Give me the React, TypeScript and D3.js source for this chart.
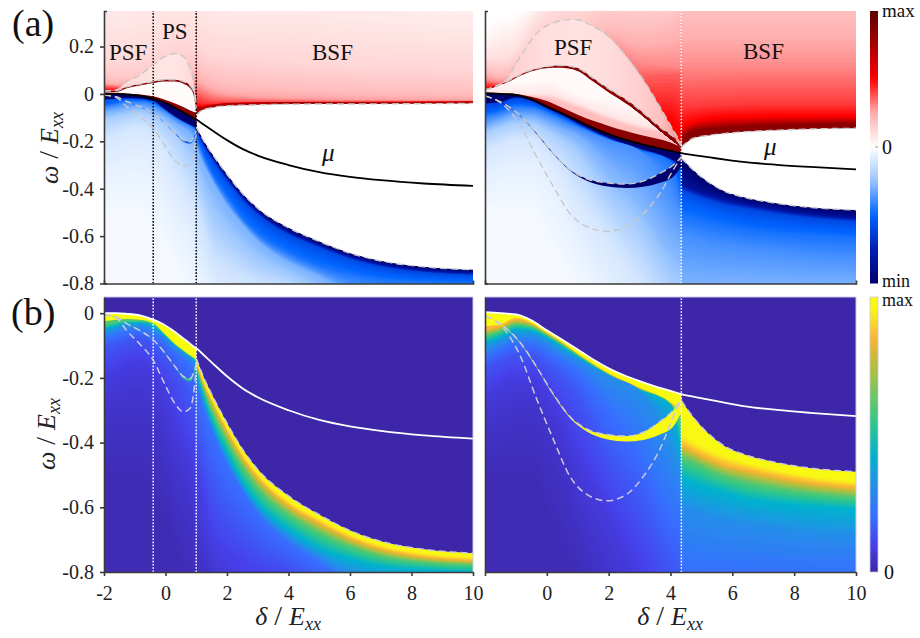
import React, { useEffect, useRef } from 'react';
import * as d3 from 'd3';

// ---------- colour stops ----------
const redStops = ['#ffffff', '#ffafaf', '#ff0000', '#aa0000', '#5a0000'];
const blueStops = ['#ffffff', '#96c3ff', '#0064ff', '#001eb4', '#00006e'];
const barT = [0, 0.25, 0.5, 0.75, 1];
const parulaT = [0, 0.1, 0.2, 0.3, 0.42, 0.55, 0.7, 0.8, 0.85, 0.92, 0.96, 1];
const parulaC = ['#3e26a8', '#4641eb', '#376eff', '#268ceb', '#00b2cd', '#32c887', '#96c34b', '#d7b932', '#fab437', '#fae123', '#f8f814', '#f8fa0f'];
// blue weights are read on the (b) scale, this maps them to the (a) bar
const weightB = [0, 0.1, 0.19, 0.3, 0.42, 0.6, 0.85, 0.95, 1];
const weightA = [0, 0.12, 0.28, 0.38, 0.46, 0.53, 0.6, 0.85, 1];

// ---------- left column curves ----------
const leftGrid = [-2, -1.6, -1.26, -0.83, -0.4, -0.07, 0.31, 0.58, 0.8, 0.9, 1];
const leftMu = [0, 0, -0.002, -0.007, -0.02, -0.034, -0.058, -0.078, -0.094, -0.102, -0.108];
const leftU2 = [0.012, 0.017, 0.052, 0.08, 0.123, 0.155, 0.17, 0.158, 0.109, 0.06, -0.05];
const leftU1 = [0.012, 0.014, 0.03, 0.042, 0.052, 0.06, 0.06, 0.052, 0.035, 0.015, -0.06];
const leftU1b = [0.006, 0.008, 0.024, 0.036, 0.046, 0.053, 0.052, 0.043, 0.024, 0.002, -0.07];
const leftU0 = [0.005, 0.005, 0.002, -0.002, -0.01, -0.022, -0.04, -0.055, -0.07, -0.075, -0.08];
const leftL1 = [-0.005, -0.012, -0.032, -0.054, -0.082, -0.117, -0.165, -0.195, -0.202, -0.188, -0.155];
const leftL1b = [-0.006, -0.013, -0.034, -0.056, -0.084, -0.119, -0.168, -0.202, -0.21, -0.197, -0.165];
const leftL2 = [-0.005, -0.015, -0.054, -0.096, -0.145, -0.21, -0.28, -0.305, -0.294, -0.258, -0.17];
const leftBand = [-0.025, -0.02, -0.018, -0.02, -0.03, -0.06, -0.095, -0.115, -0.13, -0.136, -0.145];

const leftTailX = [1, 1.25, 1.5, 2, 2.5, 3, 4, 5, 6, 7, 8.4, 10];
const leftTailMu = [-0.108, -0.13, -0.152, -0.195, -0.232, -0.26, -0.3, -0.33, -0.35, -0.364, -0.378, -0.388];
const leftEdge = [-0.14, -0.2, -0.25, -0.34, -0.42, -0.483, -0.565, -0.623, -0.672, -0.705, -0.73, -0.742];

const leftUpX = [1, 1.2, 1.5, 2, 3, 4.4, 7, 10];
const leftUpEdge = [-0.09, -0.068, -0.058, -0.05, -0.046, -0.043, -0.042, -0.04];

// ---------- right column curves ----------
const rightGrid = [-2, -1.4, -0.87, -0.33, 0.21, 0.75, 1.29, 1.94, 2.58, 3.12, 3.66, 4.09, 4.35];
const rightL1 = [-0.008, -0.04, -0.09, -0.166, -0.25, -0.32, -0.358, -0.375, -0.38, -0.368, -0.335, -0.3, -0.266];
const rightL1b = [-0.008, -0.042, -0.092, -0.169, -0.254, -0.324, -0.366, -0.39, -0.397, -0.392, -0.375, -0.35, -0.306];
const rightL2 = [-0.008, -0.047, -0.13, -0.265, -0.39, -0.505, -0.56, -0.58, -0.56, -0.505, -0.42, -0.32, -0.266];

const rightMuX = [-2, -1.5, -1, -0.5, 0, 0.5, 1, 1.5, 2, 2.5, 3, 3.5, 4, 4.35];
const rightMu = [0.003, 0, -0.004, -0.022, -0.053, -0.082, -0.112, -0.143, -0.17, -0.192, -0.21, -0.226, -0.24, -0.25];
const rightMidX = [-2, -1.5, -1, -0.5, 0, 0.5, 1, 2, 3, 4, 4.35];
const rightBand = [-0.04, -0.035, -0.015, -0.03, -0.06, -0.09, -0.125, -0.185, -0.23, -0.275, -0.3];
const rightU0 = [0.005, 0.004, 0, -0.012, -0.03, -0.058, -0.088, -0.135, -0.172, -0.205, -0.225];

const rightU1X = [-2, -1.4, -0.65, 0, 0.43, 0.97, 1.5, 2.05, 2.58, 3.12, 3.66, 4.2, 4.35];
const rightU1 = [0.017, 0.046, 0.094, 0.115, 0.12, 0.11, 0.066, 0.017, -0.025, -0.08, -0.14, -0.195, -0.22];
const rightU1b = [0.012, 0.041, 0.088, 0.108, 0.11, 0.098, 0.052, 0.002, -0.042, -0.098, -0.16, -0.215, -0.23];

const rightU2X = [-2, -1.4, -0.86, -0.32, 0.22, 0.86, 1.5, 2.05, 2.58, 3.12, 3.66, 4.09, 4.35];
const rightU2 = [0.017, 0.05, 0.157, 0.257, 0.3, 0.315, 0.285, 0.236, 0.157, 0.06, -0.055, -0.153, -0.21];

const rightTailX = [4.35, 4.74, 5.28, 5.82, 6.36, 7.44, 8.52, 10];
const rightTailMu = [-0.25, -0.258, -0.268, -0.278, -0.287, -0.299, -0.308, -0.318];
const rightEdge = [-0.27, -0.322, -0.377, -0.415, -0.436, -0.462, -0.479, -0.49];
const rightUpEdge = [-0.225, -0.187, -0.174, -0.166, -0.16, -0.153, -0.148, -0.145];

// ---------- contours of the shading, [weight, omega at each x] ----------
const leftLowLevels: [number, number[]][] = [
  [0.6, [-0.035, -0.028, -0.024, -0.025, -0.034, -0.063, -0.098, -0.118, -0.133, -0.139, -0.148]],
  [0.4, [-0.05, -0.04, -0.03, -0.03, -0.04, -0.065, -0.1, -0.12, -0.135, -0.142, -0.15]],
  [0.3, [-0.06, -0.05, -0.04, -0.04, -0.05, -0.072, -0.105, -0.125, -0.14, -0.15, -0.16]],
  [0.2, [-0.08, -0.07, -0.06, -0.055, -0.07, -0.09, -0.125, -0.145, -0.165, -0.18, -0.2]],
  [0.14, [-0.11, -0.1, -0.09, -0.08, -0.1, -0.13, -0.17, -0.22, -0.27, -0.28, -0.3]],
  [0.08, [-0.2, -0.18, -0.16, -0.15, -0.18, -0.23, -0.33, -0.4, -0.45, -0.48, -0.5]],
  [0.05, [-0.32, -0.3, -0.28, -0.28, -0.32, -0.4, -0.5, -0.55, -0.6, -0.65, -0.7]],
  [0.02, [-0.5, -0.5, -0.5, -0.5, -0.55, -0.62, -0.72, -0.8, -0.85, -0.9, -0.9]],
];
const leftTailLevels: [number, number[]][] = [
  [1, leftEdge],
  [0.93, [-0.15, -0.215, -0.265, -0.355, -0.435, -0.498, -0.583, -0.638, -0.687, -0.72, -0.745, -0.757]],
  [0.8, [-0.16, -0.225, -0.275, -0.37, -0.45, -0.513, -0.598, -0.653, -0.7, -0.733, -0.757, -0.768]],
  [0.6, [-0.17, -0.24, -0.3, -0.395, -0.475, -0.54, -0.622, -0.678, -0.72, -0.75, -0.77, -0.778]],
  [0.4, [-0.18, -0.265, -0.335, -0.435, -0.525, -0.59, -0.67, -0.728, -0.762, -0.785, -0.795, -0.802]],
  [0.2, [-0.22, -0.3, -0.36, -0.47, -0.55, -0.62, -0.71, -0.77, -0.84, -0.88, -0.93, -0.97]],
  [0.1, [-0.45, -0.55, -0.65, -0.72, -0.76, -0.79, -0.82, -0.9, -1, -1.05, -1.1, -1.2]],
  [0.03, [-0.8, -0.85, -0.9, -0.95, -1, -1.05, -1.1, -1.2, -1.3, -1.3, -1.3, -1.4]],
];
const leftUpLevels: [number, number[]][] = [
  [0.85, [-0.06, -0.055, -0.048, -0.04, -0.037, -0.035, -0.034, -0.032]],
  [0.5, [-0.05, -0.052, -0.044, -0.037, -0.034, -0.033, -0.032, -0.03]],
  [0.43, [-0.03, -0.04, -0.042, -0.036, -0.033, -0.032, -0.031, -0.029]],
  [0.36, [0, -0.01, -0.025, -0.03, -0.031, -0.031, -0.03, -0.028]],
  [0.27, [0.05, 0.03, 0.01, -0.005, -0.015, -0.02, -0.025, -0.027]],
  [0.2, [0.1, 0.08, 0.06, 0.04, 0.03, 0.02, 0.01, 0]],
  [0.125, [0.2, 0.18, 0.16, 0.15, 0.14, 0.13, 0.11, 0.1]],
  [0.08, [0.35, 0.34, 0.32, 0.3, 0.3, 0.3, 0.27, 0.25]],
  [0.05, [0.5, 0.5, 0.5, 0.45, 0.42, 0.42, 0.4, 0.38]],
];
const leftPsfX = [-2, -1.6, -1.2, -0.8, -0.4, 0, 0.5, 1];
const leftPsfLevels: [number, number[]][] = [
  [0.45, [0.02, 0.018, 0.01, 0, 0, 0, 0, -0.02]],
  [0.25, [0.045, 0.04, 0.04, 0.04, 0.04, 0.04, 0.04, 0.06]],
  [0.17, [0.08, 0.07, 0.07, 0.07, 0.1, 0.1, 0.1, 0.12]],
  [0.12, [0.14, 0.14, 0.14, 0.15, 0.16, 0.2, 0.22, 0.2]],
  [0.08, [0.3, 0.28, 0.28, 0.3, 0.3, 0.35, 0.35, 0.32]],
  [0.06, [0.45, 0.45, 0.45, 0.45, 0.45, 0.45, 0.45, 0.45]],
];
const rightLowLevels: [number, number[]][] = [
  [0.85, [-0.05, -0.04, -0.02, -0.032, -0.062, -0.092, -0.127, -0.187, -0.232, -0.277, -0.31]],
  [0.6, [-0.07, -0.055, -0.035, -0.042, -0.068, -0.097, -0.13, -0.19, -0.235, -0.28, -0.33]],
  [0.4, [-0.09, -0.075, -0.05, -0.055, -0.075, -0.105, -0.135, -0.192, -0.238, -0.285, -0.45]],
  [0.3, [-0.11, -0.09, -0.07, -0.07, -0.09, -0.12, -0.145, -0.195, -0.24, -0.42, -0.5]],
  [0.2, [-0.14, -0.115, -0.095, -0.095, -0.12, -0.15, -0.18, -0.3, -0.43, -0.62, -0.66]],
  [0.14, [-0.17, -0.145, -0.13, -0.13, -0.16, -0.2, -0.26, -0.45, -0.6, -0.8, -0.85]],
  [0.08, [-0.25, -0.22, -0.2, -0.2, -0.25, -0.33, -0.44, -0.62, -0.82, -1, -1]],
  [0.05, [-0.35, -0.32, -0.3, -0.3, -0.35, -0.45, -0.6, -0.82, -1, -1.1, -1.1]],
  [0.02, [-0.5, -0.5, -0.5, -0.5, -0.6, -0.72, -0.82, -1, -1.2, -1.2, -1.2]],
];
const rightTailLevels: [number, number[]][] = [
  [1, rightEdge],
  [0.95, [-0.375, -0.4, -0.425, -0.445, -0.46, -0.485, -0.505, -0.522]],
  [0.85, [-0.405, -0.425, -0.45, -0.47, -0.482, -0.505, -0.523, -0.538]],
  [0.6, [-0.445, -0.46, -0.485, -0.505, -0.52, -0.54, -0.555, -0.569]],
  [0.42, [-0.507, -0.52, -0.54, -0.555, -0.57, -0.585, -0.595, -0.605]],
  [0.3, [-0.6, -0.61, -0.63, -0.64, -0.65, -0.665, -0.68, -0.69]],
  [0.19, [-0.82, -0.82, -0.82, -0.82, -0.82, -0.82, -0.82, -0.82]],
];
const rightUpLevels: [number, number[]][] = [
  [0.85, [-0.19, -0.155, -0.145, -0.14, -0.137, -0.13, -0.128, -0.125]],
  [0.72, [-0.175, -0.145, -0.135, -0.13, -0.125, -0.12, -0.118, -0.115]],
  [0.5, [-0.14, -0.12, -0.105, -0.1, -0.1, -0.095, -0.095, -0.095]],
  [0.41, [-0.05, -0.05, -0.045, -0.045, -0.04, -0.04, -0.04, -0.04]],
  [0.3, [0.115, 0.115, 0.115, 0.115, 0.115, 0.115, 0.115, 0.115]],
  [0.2, [0.34, 0.34, 0.34, 0.34, 0.34, 0.34, 0.34, 0.34]],
];
const rightPsfLevels: [number, number[]][] = [
  [0.5, [0.022, 0.02, 0, -0.1, -0.1, -0.1, -0.1, -0.1, -0.1, -0.12, -0.18]],
  [0.36, [0.05, 0.04, 0.02, 0, 0, 0, 0, 0, 0.07, 0.08, 0.08]],
  [0.3, [0.06, 0.05, 0.05, 0.05, 0.05, 0.05, 0.05, 0.2, 0.13, 0.12, 0.115]],
  [0.2, [0.1, 0.08, 0.1, 0.12, 0.14, 0.16, 0.2, 0.28, 0.27, 0.3, 0.34]],
  [0.1, [0.15, 0.15, 0.18, 0.28, 0.34, 0.4, 0.4, 0.45, 0.45, 0.45, 0.45]],
  [0.03, [0.22, 0.27, 0.3, 0.35, 0.45, 0.5, 0.5, 0.55, 0.55, 0.55, 0.55]],
  [0, [0.3, 0.33, 0.34, 0.45, 0.55, 0.6, 0.6, 0.65, 0.65, 0.65, 0.65]],
];
const rightGapX = [-2, -1, 0, 1, 2, 3, 4, 4.35];
const rightGapLevels: [number, number[]][] = [
  [0.02, [0.05, 0.05, 0.06, 0, -0.02, -0.06, -0.1, -0.12]],
  [0.08, [0.01, 0, 0, -0.04, -0.09, -0.13, -0.165, -0.2]],
  [0.2, [0, -0.01, -0.02, -0.06, -0.11, -0.15, -0.18, -0.22]],
];
// pale strip between the two upper curves, weight along x
const leftStripX = [-2, -1, -0.4, 0, 0.5, 0.8, 1];
const leftStripT = [0.14, 0.11, 0.09, 0.08, 0.09, 0.12, 0.14];
const rightStripX = [-2, -1, 0, 1, 2, 3, 3.7, 4.35];
const rightStripT = [0.2, 0.14, 0.1, 0.09, 0.11, 0.15, 0.2, 0.3];

const yTicksA = [0.2, 0, -0.2, -0.4, -0.6, -0.8];
const yTicksB = [0, -0.2, -0.4, -0.6, -0.8];
const xTicksLeft = [-2, 0, 2, 4, 6, 8, 10];
const xTicksRight = [0, 2, 4, 6, 8, 10];

const SERIF = '"Liberation Serif", serif';
const STEPS = 12;

export default function App() {
  const ref = useRef<SVGSVGElement>(null);

  useEffect(() => {
    const svg = d3.select(ref.current);
    svg.selectAll('*').remove();
    const defs = svg.append('defs');
    let uid = 0;

    const redA = d3.scaleLinear<string>().domain(barT).range(redStops);
    const blueA = d3.scaleLinear<string>().domain(barT).range(blueStops);
    const toA = d3.scaleLinear().domain(weightB).range(weightA);
    const parula = d3.scaleLinear<string>().domain(parulaT).range(parulaC).clamp(true);
    const blueOnA = (t: number) => blueA(toA(t));

    const xLeft = d3.scaleLinear().domain([-2, 10]).range([104, 473]);
    const xRight = d3.scaleLinear().domain([-2, 10]).range([485, 856]);
    const yA = d3.scaleLinear().domain([-0.8, 0.35]).range([283.5, 11]);
    const yB = d3.scaleLinear().domain([-0.8, 0.05]).range([572, 297]);

    const panel = (x: any, y: any, bg: string | null) => {
      const id = 'p' + uid++;
      const [x0, x1] = x.range();
      const [y1, y0] = y.range();
      defs.append('clipPath').attr('id', id).append('rect')
        .attr('x', x0).attr('y', y0).attr('width', x1 - x0).attr('height', y1 - y0);
      const g = svg.append('g').attr('clip-path', `url(#${id})`);
      if (bg) g.append('rect').attr('x', x0).attr('y', y0).attr('width', x1 - x0).attr('height', y1 - y0).attr('fill', bg);
      return g;
    };

    const edgeArea = (x: any, y: any, far: number) =>
      d3.area<[number, number]>().x(d => x(d[0])).y0(d => y(d[1])).y1(y(far)).curve(d3.curveMonotoneX);

    // fills the part of the panel on one side of a curve, optionally shaded by contours
    const shade = (g: any, x: any, y: any, color: (t: number) => string, xs: number[], edge: number[], side: string,
      t0: number, lx?: number[], levels?: [number, number[]][]) => {
      const far = side === 'below' ? -2 : 2;
      const id = 'c' + uid++;
      const pts = xs.map((v, i) => [v, edge[i]] as [number, number]);
      defs.append('clipPath').attr('id', id).append('path').attr('d', edgeArea(x, y, far)(pts));
      const layer = g.append('g').attr('clip-path', `url(#${id})`);
      const [px0, px1] = x.range();
      layer.append('rect').attr('x', px0).attr('width', px1 - px0).attr('y', 0).attr('height', 638).attr('fill', color(t0));
      if (!levels || !lx) return;
      const paint = (ys: number[], t: number) => {
        layer.append('path').attr('fill', color(t))
          .attr('d', edgeArea(x, y, far)(lx.map((v, i) => [v, ys[i]] as [number, number])));
      };
      levels.forEach((lv, k) => {
        const next = levels[k + 1];
        if (!next) { paint(lv[1], lv[0]); return; }
        for (let s = 0; s < STEPS; s++) {
          const f = s / STEPS;
          paint(lv[1].map((v, i) => v + (next[1][i] - v) * f), lv[0] + (next[0] - lv[0]) * f);
        }
      });
    };

    // pale strip: same clip, but a horizontal gradient
    const strip = (g: any, x: any, y: any, color: (t: number) => string, xs: number[], edge: number[], sx: number[], st: number[]) => {
      const gid = 'g' + uid++;
      const cid = 'c' + uid++;
      const grad = defs.append('linearGradient').attr('id', gid).attr('gradientUnits', 'userSpaceOnUse')
        .attr('x1', x(sx[0])).attr('x2', x(sx[sx.length - 1])).attr('y1', 0).attr('y2', 0);
      sx.forEach((v, i) => grad.append('stop').attr('offset', (v - sx[0]) / (sx[sx.length - 1] - sx[0])).attr('stop-color', color(st[i])));
      defs.append('clipPath').attr('id', cid).append('path')
        .attr('d', edgeArea(x, y, -2)(xs.map((v, i) => [v, edge[i]] as [number, number])));
      g.append('g').attr('clip-path', `url(#${cid})`).append('rect')
        .attr('x', x.range()[0]).attr('width', x.range()[1] - x.range()[0]).attr('y', 0).attr('height', 638).attr('fill', `url(#${gid})`);
    };

    const band = (g: any, x: any, y: any, xs: number[], top: number[], bottom: number[], fill: string) => {
      g.append('path').attr('fill', fill).attr('d', d3.area<number>()
        .x(d => x(d)).y0((d, i) => y(top[i])).y1((d, i) => y(bottom[i])).curve(d3.curveMonotoneX)(xs));
    };

    const curve = (g: any, x: any, y: any, xs: number[], ys: number[], stroke: string, w: number, dash?: string) => {
      const p = g.append('path').attr('fill', 'none').attr('stroke', stroke).attr('stroke-width', w)
        .attr('d', d3.line<number>().x(d => x(d)).y((d, i) => y(ys[i])).curve(d3.curveMonotoneX)(xs));
      if (dash) p.attr('stroke-dasharray', dash);
    };

    const vline = (g: any, x: any, y: any, v: number, stroke: string) => {
      g.append('line').attr('x1', x(v)).attr('x2', x(v)).attr('y1', y.range()[0]).attr('y2', y.range()[1])
        .attr('stroke', stroke).attr('stroke-width', 1.5).attr('stroke-dasharray', '1.6 1.6');
    };

    const DASH = '#c8c8c8';
    const DASH_B = '#c9c9e0';
    const DASHES = '7 4';
    const leftMuAllX = leftGrid.concat(leftTailX.slice(1));
    const leftMuAll = leftMu.concat(leftTailMu.slice(1));
    const rightMuAllX = rightMuX.concat(rightTailX.slice(1));
    const rightMuAll = rightMu.concat(rightTailMu.slice(1));

    // ---------- (a) left ----------
    const aL = panel(xLeft, yA, '#ffffff');
    shade(aL, xLeft, yA, redA, leftUpX, leftUpEdge, 'above', 0.75, leftUpX, leftUpLevels);
    shade(aL, xLeft, yA, redA, [-2, 1], [-2, -2], 'above', 0.45, leftPsfX, leftPsfLevels);
    strip(aL, xLeft, yA, redA, leftGrid, leftU2, leftStripX, leftStripT);
    shade(aL, xLeft, yA, redA, leftGrid, leftU1, 'below', 0.85);
    shade(aL, xLeft, yA, redA, leftGrid, leftU1b, 'below', 0.012);
    shade(aL, xLeft, yA, redA, leftGrid, leftU0, 'below', 0.85);
    shade(aL, xLeft, yA, blueOnA, leftGrid, leftMu, 'below', 1);
    shade(aL, xLeft, yA, blueOnA, leftGrid, leftBand, 'below', 0.6, leftGrid, leftLowLevels);
    band(aL, xLeft, yA, leftGrid, leftL1, leftL1b, blueA(0.55));
    shade(aL, xLeft, yA, blueOnA, leftTailX, leftEdge, 'below', 1, leftTailX, leftTailLevels);
    vline(aL, xLeft, yA, -0.4, '#000000');
    vline(aL, xLeft, yA, 1, '#000000');
    [leftU2, leftU1, leftL1, leftL2].forEach(c => curve(aL, xLeft, yA, leftGrid, c, DASH, 1.4, DASHES));
    curve(aL, xLeft, yA, leftUpX, leftUpEdge, DASH, 1.4, DASHES);
    curve(aL, xLeft, yA, leftTailX, leftEdge, DASH, 1.4, DASHES);
    curve(aL, xLeft, yA, leftMuAllX, leftMuAll, '#000000', 1.8);

    // ---------- (a) right ----------
    const aR = panel(xRight, yA, '#ffffff');
    shade(aR, xRight, yA, redA, rightTailX, rightUpEdge, 'above', 0.85, rightTailX, rightUpLevels);
    shade(aR, xRight, yA, redA, [-2, 4.35], [-2, -2], 'above', 0.5, rightMidX, rightPsfLevels);
    strip(aR, xRight, yA, redA, rightU2X, rightU2, rightStripX, rightStripT);
    shade(aR, xRight, yA, redA, rightU1X, rightU1, 'below', 0.85);
    shade(aR, xRight, yA, redA, rightU1X, rightU1b, 'below', 0.02, rightGapX, rightGapLevels);
    shade(aR, xRight, yA, redA, rightMidX, rightU0, 'below', 0.85);
    shade(aR, xRight, yA, blueOnA, rightMuX, rightMu, 'below', 1);
    shade(aR, xRight, yA, blueOnA, rightMidX, rightBand, 'below', 0.85, rightMidX, rightLowLevels);
    band(aR, xRight, yA, rightGrid, rightL1, rightL1b, blueA(1));
    shade(aR, xRight, yA, blueOnA, rightTailX, rightEdge, 'below', 1, rightTailX, rightTailLevels);
    vline(aR, xRight, yA, 4.35, '#ffffff');
    curve(aR, xRight, yA, rightU2X, rightU2, DASH, 1.4, DASHES);
    curve(aR, xRight, yA, rightU1X, rightU1, DASH, 1.4, DASHES);
    curve(aR, xRight, yA, rightGrid, rightL1, DASH, 1.4, DASHES);
    curve(aR, xRight, yA, rightGrid, rightL2, DASH, 1.4, DASHES);
    curve(aR, xRight, yA, rightTailX, rightUpEdge, DASH, 1.4, DASHES);
    curve(aR, xRight, yA, rightTailX, rightEdge, DASH, 1.4, DASHES);
    curve(aR, xRight, yA, rightMuAllX, rightMuAll, '#000000', 1.8);

    // ---------- (b) left ----------
    const bL = panel(xLeft, yB, parula(0));
    shade(bL, xLeft, yB, parula, leftGrid, leftMu, 'below', 1);
    shade(bL, xLeft, yB, parula, leftGrid, leftBand, 'below', 0.6, leftGrid, leftLowLevels);
    band(bL, xLeft, yB, leftGrid, leftL1, leftL1b, parula(0.55));
    shade(bL, xLeft, yB, parula, leftTailX, leftEdge, 'below', 1, leftTailX, leftTailLevels);
    vline(bL, xLeft, yB, -0.4, '#ffffff');
    vline(bL, xLeft, yB, 1, '#ffffff');
    curve(bL, xLeft, yB, leftGrid, leftL1, DASH_B, 1.5, DASHES);
    curve(bL, xLeft, yB, leftGrid, leftL2, DASH_B, 1.5, DASHES);
    curve(bL, xLeft, yB, leftTailX, leftEdge, DASH_B, 1.5, DASHES);
    curve(bL, xLeft, yB, leftMuAllX, leftMuAll, '#ffffff', 1.8);

    // ---------- (b) right ----------
    const bR = panel(xRight, yB, parula(0));
    shade(bR, xRight, yB, parula, rightMuX, rightMu, 'below', 1);
    shade(bR, xRight, yB, parula, rightMidX, rightBand, 'below', 0.85, rightMidX, rightLowLevels);
    band(bR, xRight, yB, rightGrid, rightL1, rightL1b, parula(1));
    shade(bR, xRight, yB, parula, rightTailX, rightEdge, 'below', 1, rightTailX, rightTailLevels);
    vline(bR, xRight, yB, 4.35, '#ffffff');
    curve(bR, xRight, yB, rightGrid, rightL1, DASH_B, 1.5, DASHES);
    curve(bR, xRight, yB, rightGrid, rightL2, DASH_B, 1.5, DASHES);
    curve(bR, xRight, yB, rightTailX, rightEdge, DASH_B, 1.5, DASHES);
    curve(bR, xRight, yB, rightMuAllX, rightMuAll, '#ffffff', 1.8);

    // light frame on the (b) panels
    [xLeft, xRight].forEach(x => {
      svg.append('path').attr('fill', 'none').attr('stroke', '#c9c9e8').attr('stroke-width', 1)
        .attr('d', `M${x.range()[0]},${yB.range()[1]}H${x.range()[1]}V${yB.range()[0]}`);
    });

    // ---------- axes ----------
    const styleAxis = (g: any) => {
      g.selectAll('path').attr('stroke', '#3a3a3a').attr('stroke-width', 1.6);
      g.selectAll('line').attr('stroke', '#3a3a3a').attr('stroke-width', 1.6);
      g.selectAll('text').attr('font-family', SERIF).attr('font-size', 20).attr('fill', '#222');
    };
    const fmt = (d: any) => String(d);
    const addAxis = (axis: any, tx: number, ty: number) =>
      svg.append('g').attr('transform', `translate(${tx},${ty})`).call(axis).call(styleAxis);

    addAxis(d3.axisLeft(yA).tickValues(yTicksA).tickFormat(fmt).tickSize(4).tickPadding(6).tickSizeOuter(-3), 104, 0);
    addAxis(d3.axisBottom(xLeft).tickValues([]).tickSizeOuter(-3), 0, 283.5);
    addAxis(d3.axisLeft(yA).tickValues([]).tickSizeOuter(-3), 485, 0);
    addAxis(d3.axisBottom(xRight).tickValues([]).tickSizeOuter(-3), 0, 283.5);
    addAxis(d3.axisLeft(yB).tickValues(yTicksB).tickFormat(fmt).tickSize(4).tickPadding(6).tickSizeOuter(0), 104, 0);
    addAxis(d3.axisBottom(xLeft).tickValues(xTicksLeft).tickFormat(fmt).tickSize(4).tickPadding(10).tickSizeOuter(0), 0, 572);
    addAxis(d3.axisLeft(yB).tickValues([]).tickSizeOuter(0), 485, 0);
    addAxis(d3.axisBottom(xRight).tickValues(xTicksRight.concat([-2])).tickFormat((d: any) => (d === -2 ? '' : String(d))).tickSize(4).tickPadding(10).tickSizeOuter(0), 0, 572);

    // ---------- colour bars ----------
    const colorBar = (y: any, color: (t: number) => string, domain: [number, number]) => {
      const gid = 'g' + uid++;
      const grad = defs.append('linearGradient').attr('id', gid).attr('x1', 0).attr('x2', 0).attr('y1', 1).attr('y2', 0);
      d3.range(0, 1.0001, 0.02).forEach(f => grad.append('stop').attr('offset', f).attr('stop-color', color(domain[0] + (domain[1] - domain[0]) * f)));
      svg.append('rect').attr('x', 870).attr('width', 8).attr('y', y.range()[1]).attr('height', y.range()[0] - y.range()[1])
        .attr('fill', `url(#${gid})`);
    };
    colorBar(yA, (v: number) => (v >= 0 ? redA(v) : blueA(-v)), [-1, 1]);
    colorBar(yB, parula, [0, 1]);
    svg.append('rect').attr('x', 870).attr('width', 8).attr('y', 297).attr('height', 275).attr('fill', 'none').attr('stroke', '#c9c9d8').attr('stroke-width', 0.8);
    svg.append('line').attr('x1', 875).attr('x2', 878).attr('y1', 147).attr('y2', 147).attr('stroke', '#999');

    // ---------- text ----------
    const label = (txt: string, x: number, y: number, size: number, extra?: any) => {
      const t = svg.append('text').attr('x', x).attr('y', y).attr('font-family', SERIF).attr('font-size', size).attr('fill', '#111').text(txt);
      if (extra) Object.entries(extra).forEach(([k, v]) => t.attr(k, v as any));
      return t;
    };
    label('(a)', 12, 36, 38);
    label('(b)', 11, 325, 38);
    label('PSF', 109, 60, 23);
    label('PS', 162, 39, 23);
    label('BSF', 312, 60, 23);
    label('PSF', 554, 55, 23);
    label('BSF', 743, 59, 23);
    label('μ', 322, 161, 25, { 'font-style': 'italic' });
    label('μ', 764, 155, 25, { 'font-style': 'italic' });
    label('max', 882, 17, 19);
    label('0', 882, 154, 20);
    label('min', 882, 287, 18);
    label('max', 882, 306, 18);
    label('0', 884, 579, 20);

    const mathLabel = (sym: string, x: number, y: number, rotate: boolean) => {
      const t = svg.append('text').attr('font-family', SERIF).attr('font-size', 26).attr('fill', '#222').attr('text-anchor', 'middle')
        .attr('transform', rotate ? `translate(${x},${y}) rotate(-90)` : `translate(${x},${y})`);
      t.append('tspan').attr('font-style', 'italic').text(sym);
      t.append('tspan').text(' / ').attr('font-size', 28);
      t.append('tspan').attr('font-style', 'italic').text('E');
      t.append('tspan').attr('font-style', 'italic').attr('font-size', 18).attr('dy', 5).text('xx');
    };
    mathLabel('ω', 58, 148, true);
    mathLabel('ω', 55, 434, true);
    mathLabel('δ', 288, 625, false);
    mathLabel('δ', 670, 625, false);
  }, []);

  return <svg ref={ref} width={920} height={638} style={{ position: 'absolute', left: 0, top: 0, background: '#ffffff' }} />;
}
